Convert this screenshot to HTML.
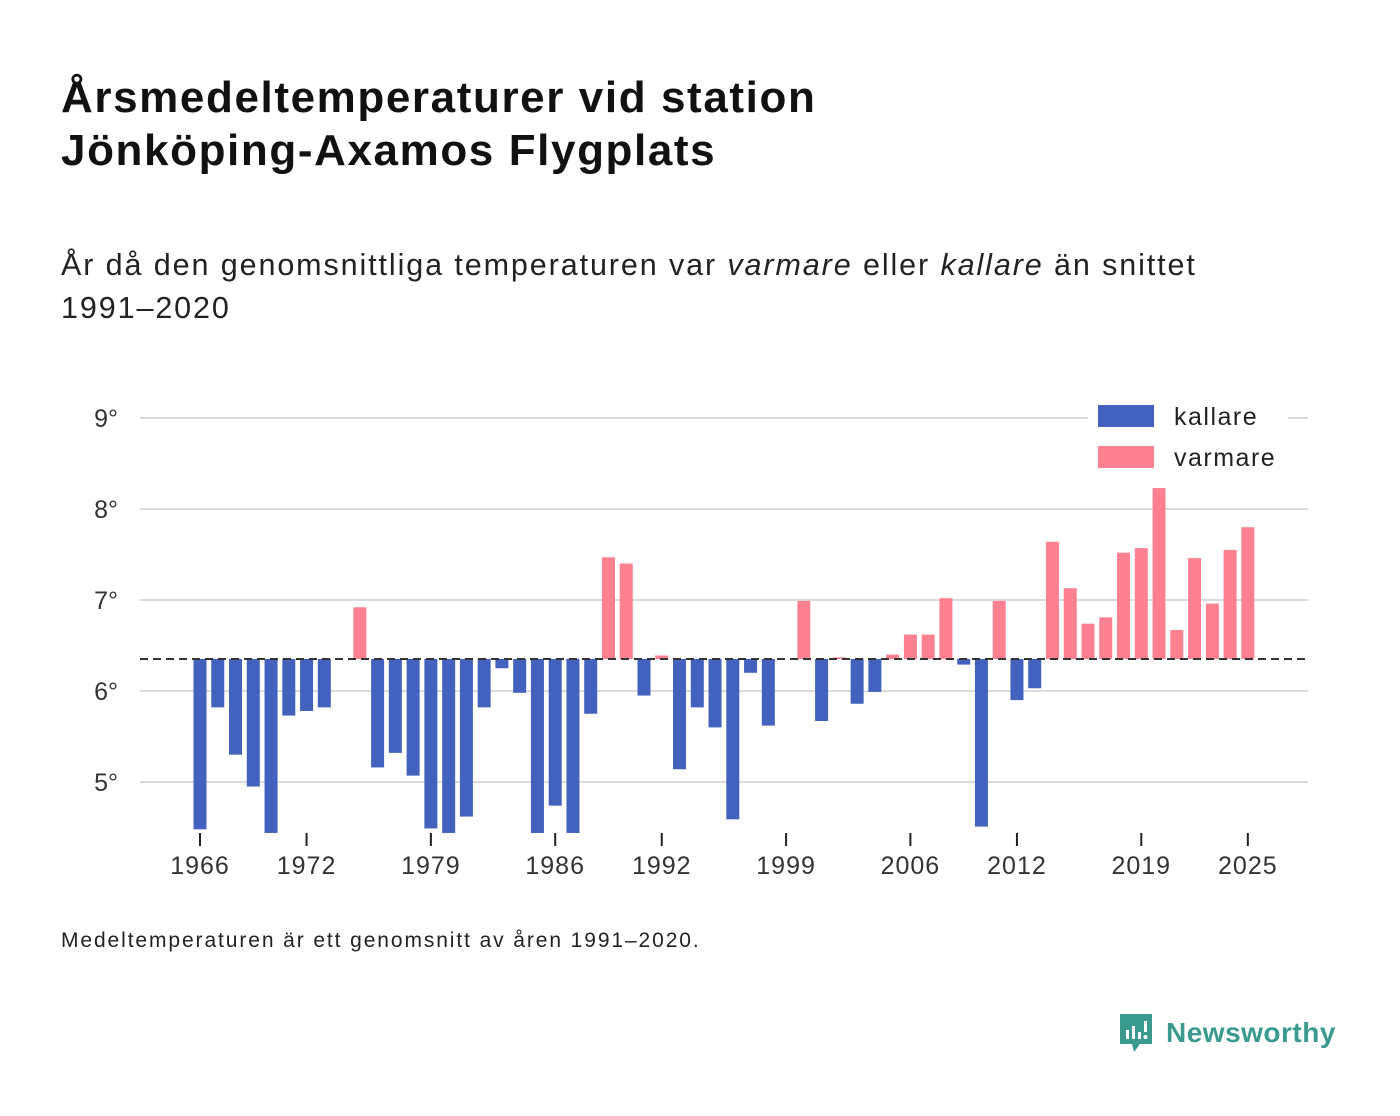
<!DOCTYPE html>
<html><head><meta charset="utf-8"><style>
body{margin:0;background:#fff;font-family:"Liberation Sans",sans-serif;color:#111;}
#wrap{position:relative;width:1400px;height:1116px;overflow:hidden;}
h1{position:absolute;left:61px;top:71px;margin:0;font-size:44px;line-height:53px;font-weight:bold;color:#111;letter-spacing:1.6px;}
.sub{position:absolute;left:61px;top:244px;font-size:30.5px;line-height:43px;color:#222;letter-spacing:1.9px;white-space:nowrap;}
.note{position:absolute;left:61px;top:929px;font-size:21px;color:#222;letter-spacing:1.9px;white-space:nowrap;}
.logo{position:absolute;left:1118px;top:1012px;display:flex;align-items:center;color:#3a9a8f;font-weight:bold;font-size:28px;}
</style></head><body>
<div id="wrap">
<h1>Årsmedeltemperaturer vid station<br>Jönköping-Axamos Flygplats</h1>
<div class="sub">År då den genomsnittliga temperaturen var <i>varmare</i> eller <i>kallare</i> än snittet<br>1991–2020</div>
<svg id="chart" width="1400" height="1116" style="position:absolute;left:0;top:0"></svg>
<div class="note">Medeltemperaturen är ett genomsnitt av åren 1991–2020.</div>
<div class="logo">
<svg width="36" height="42" viewBox="0 0 36 42"><path d="M2 2h32v30H22l-6 8-2-8H2z" fill="#3a9a8f"/><rect x="8" y="18" width="3" height="9" fill="#fff"/><rect x="14" y="14" width="3" height="13" fill="#fff"/><rect x="20" y="20" width="3" height="7" fill="#fff"/><rect x="26" y="9" width="3" height="11" fill="#fff"/><circle cx="27.5" cy="25" r="2" fill="#fff"/></svg>
<span style="margin-left:12px;letter-spacing:0.5px">Newsworthy</span></div>
</div>
<script>
const years=[];for(let y=1966;y<=2025;y++)years.push(y);
const temps=[4.48,5.82,5.30,4.95,4.44,5.73,5.78,5.82,null,6.92,5.16,5.32,5.07,4.49,4.44,4.62,5.82,6.25,5.98,4.44,4.74,4.44,5.75,7.47,7.40,5.95,6.39,5.14,5.82,5.60,4.59,6.20,5.62,null,6.99,5.67,6.37,5.86,5.99,6.40,6.62,6.62,7.02,6.29,4.51,6.99,5.90,6.03,7.64,7.13,6.74,6.81,7.52,7.57,8.23,6.67,7.46,6.96,7.55,7.80];
const baseline=6.352;
const yTicks=[5,6,7,8,9];
const xTicks=[1966,1972,1979,1986,1992,1999,2006,2012,2019,2025];
const NS="http://www.w3.org/2000/svg";
const svg=document.getElementById('chart');
const xS=yr=>200+(yr-1966)*17.76;
const yS=v=>691-(v-6)*91;
function mk(t,a){const e=document.createElementNS(NS,t);for(const k in a)e.setAttribute(k,a[k]);svg.appendChild(e);return e;}
yTicks.forEach(v=>{
 const g=mk('line',{x1:140,x2:1308,y1:yS(v),y2:yS(v),stroke:'#dcdcdc','stroke-width':2});
 
 
 const t=mk('text',{x:118,y:yS(v)+9,'text-anchor':'end','font-size':25,fill:'#333','font-family':'Liberation Sans, sans-serif'});
 t.textContent=v+'°';
 
 
});
years.forEach((yr,i)=>{
 const v=temps[i];if(v==null)return;
 const y0=yS(baseline),y1=yS(v);
 const r=mk('rect',{x:xS(yr)-6.5,width:13,y:Math.min(y0,y1),height:Math.max(1,Math.abs(y1-y0)),fill:v>=baseline?'#ff8090':'#4262bd'});
 
 
});
const bl=mk('line',{x1:140,x2:1308,y1:yS(baseline),y2:yS(baseline),stroke:'#333','stroke-width':2,'stroke-dasharray':'8,5'});


xTicks.forEach(yr=>{
 const l=mk('line',{x1:xS(yr),x2:xS(yr),y1:833,y2:846,stroke:'#222','stroke-width':2});
 
 
 const t=mk('text',{x:xS(yr),y:874,'text-anchor':'middle','font-size':25,fill:'#333','font-family':'Liberation Sans, sans-serif','letter-spacing':1});
 t.textContent=yr;
 
 
});
const lb=mk('rect',{x:1088,y:398,width:200,height:78,fill:'#fff'});


[['kallare','#4262bd',405],['varmare','#ff8090',446]].forEach(([n,c,y])=>{
 const s=mk('rect',{x:1098,y:y,width:56,height:22,fill:c});
 
 
 const t=mk('text',{x:1174,y:y+20,'font-size':25,fill:'#222','font-family':'Liberation Sans, sans-serif','letter-spacing':1.5});
 t.textContent=n;
 
 
});
</script>
</body></html>
